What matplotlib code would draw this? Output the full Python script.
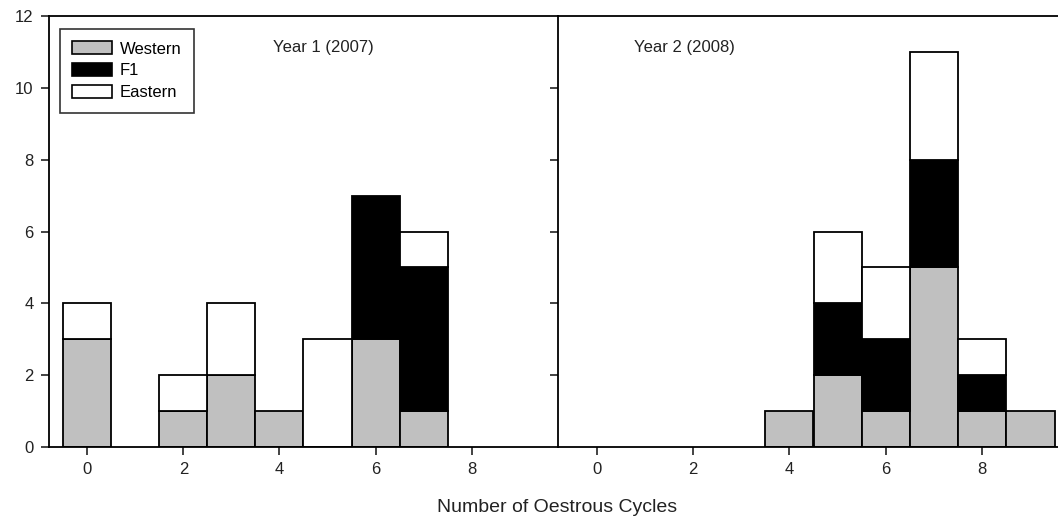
import matplotlib
matplotlib.use("Agg")
import matplotlib.pyplot as plt
from matplotlib.patches import Patch

plt.rcParams["font.family"] = ["Liberation Sans", "DejaVu Sans"]

cycles = [0, 1, 2, 3, 4, 5, 6, 7, 8, 9]
groups = ["Western", "F1", "Eastern"]
colors = {"Western": "#c0c0c0", "F1": "#000000", "Eastern": "#ffffff"}

year1_western = [3, 0, 1, 2, 1, 0, 3, 1, 0, 0]
year1_f1 = [0, 0, 0, 0, 0, 0, 4, 4, 0, 0]
year1_eastern = [1, 0, 1, 2, 0, 3, 0, 1, 0, 0]

year2_western = [0, 0, 0, 0, 1, 2, 1, 5, 1, 1]
year2_f1 = [0, 0, 0, 0, 0, 2, 2, 3, 1, 0]
year2_eastern = [0, 0, 0, 0, 0, 2, 2, 3, 1, 0]

panels = [
    ("Year 1 (2007)", [year1_western, year1_f1, year1_eastern]),
    ("Year 2 (2008)", [year2_western, year2_f1, year2_eastern]),
]

fig = plt.figure(figsize=(10.58, 5.29), dpi=100)
ax1 = fig.add_axes([49 / 1058, 82 / 529, 509 / 1058, 431 / 529])
ax2 = fig.add_axes([558 / 1058, 82 / 529, 511 / 1058, 431 / 529])


def draw_panel(ax, title, series, title_x):
    bottom = [0] * len(cycles)
    for name, vals in zip(groups, series):
        xs = [c for c, v in zip(cycles, vals) if v > 0]
        hs = [v for v in vals if v > 0]
        bs = [b for b, v in zip(bottom, vals) if v > 0]
        ax.bar(xs, hs, bottom=bs, width=1.0, color=colors[name],
               edgecolor="black", linewidth=1.3, zorder=2)
        bottom = [b + v for b, v in zip(bottom, vals)]
    ax.set_xlim(-0.8, 9.8)
    ax.set_ylim(0, 12)
    ax.set_xticks([0, 2, 4, 6, 8])
    ax.set_yticks(range(0, 13, 2))
    ax.tick_params(direction="out", length=6, width=1.2, labelsize=12,
                   colors="#222222", pad=5)
    for s in ax.spines.values():
        s.set_linewidth(1.3)
    ax.spines["right"].set_visible(False)
    ax.text(title_x, 0.928, title, transform=ax.transAxes, fontsize=12,
            color="#222222", ha="left", va="center")


draw_panel(ax1, panels[0][0], panels[0][1], 0.44)
draw_panel(ax2, panels[1][0], panels[1][1], 0.149)
ax2.tick_params(axis="y", labelleft=False)

handles = [Patch(facecolor=colors[g], edgecolor="black", linewidth=1.2, label=g)
           for g in groups]
leg = ax1.legend(handles=handles, loc="upper left", bbox_to_anchor=(0.0216, 0.97),
                 borderaxespad=0, fontsize=12, frameon=True, fancybox=False,
                 edgecolor="black", handlelength=2.35, handleheight=0.8,
                 handletextpad=0.5, labelspacing=0.4, borderpad=0.75)
leg.get_frame().set_linewidth(1.2)

fig.text(557 / 1058, 1 - 508 / 529, "Number of Oestrous Cycles", ha="center",
         va="center", fontsize=14, color="#222222")

fig.savefig("out.png", dpi=100)
